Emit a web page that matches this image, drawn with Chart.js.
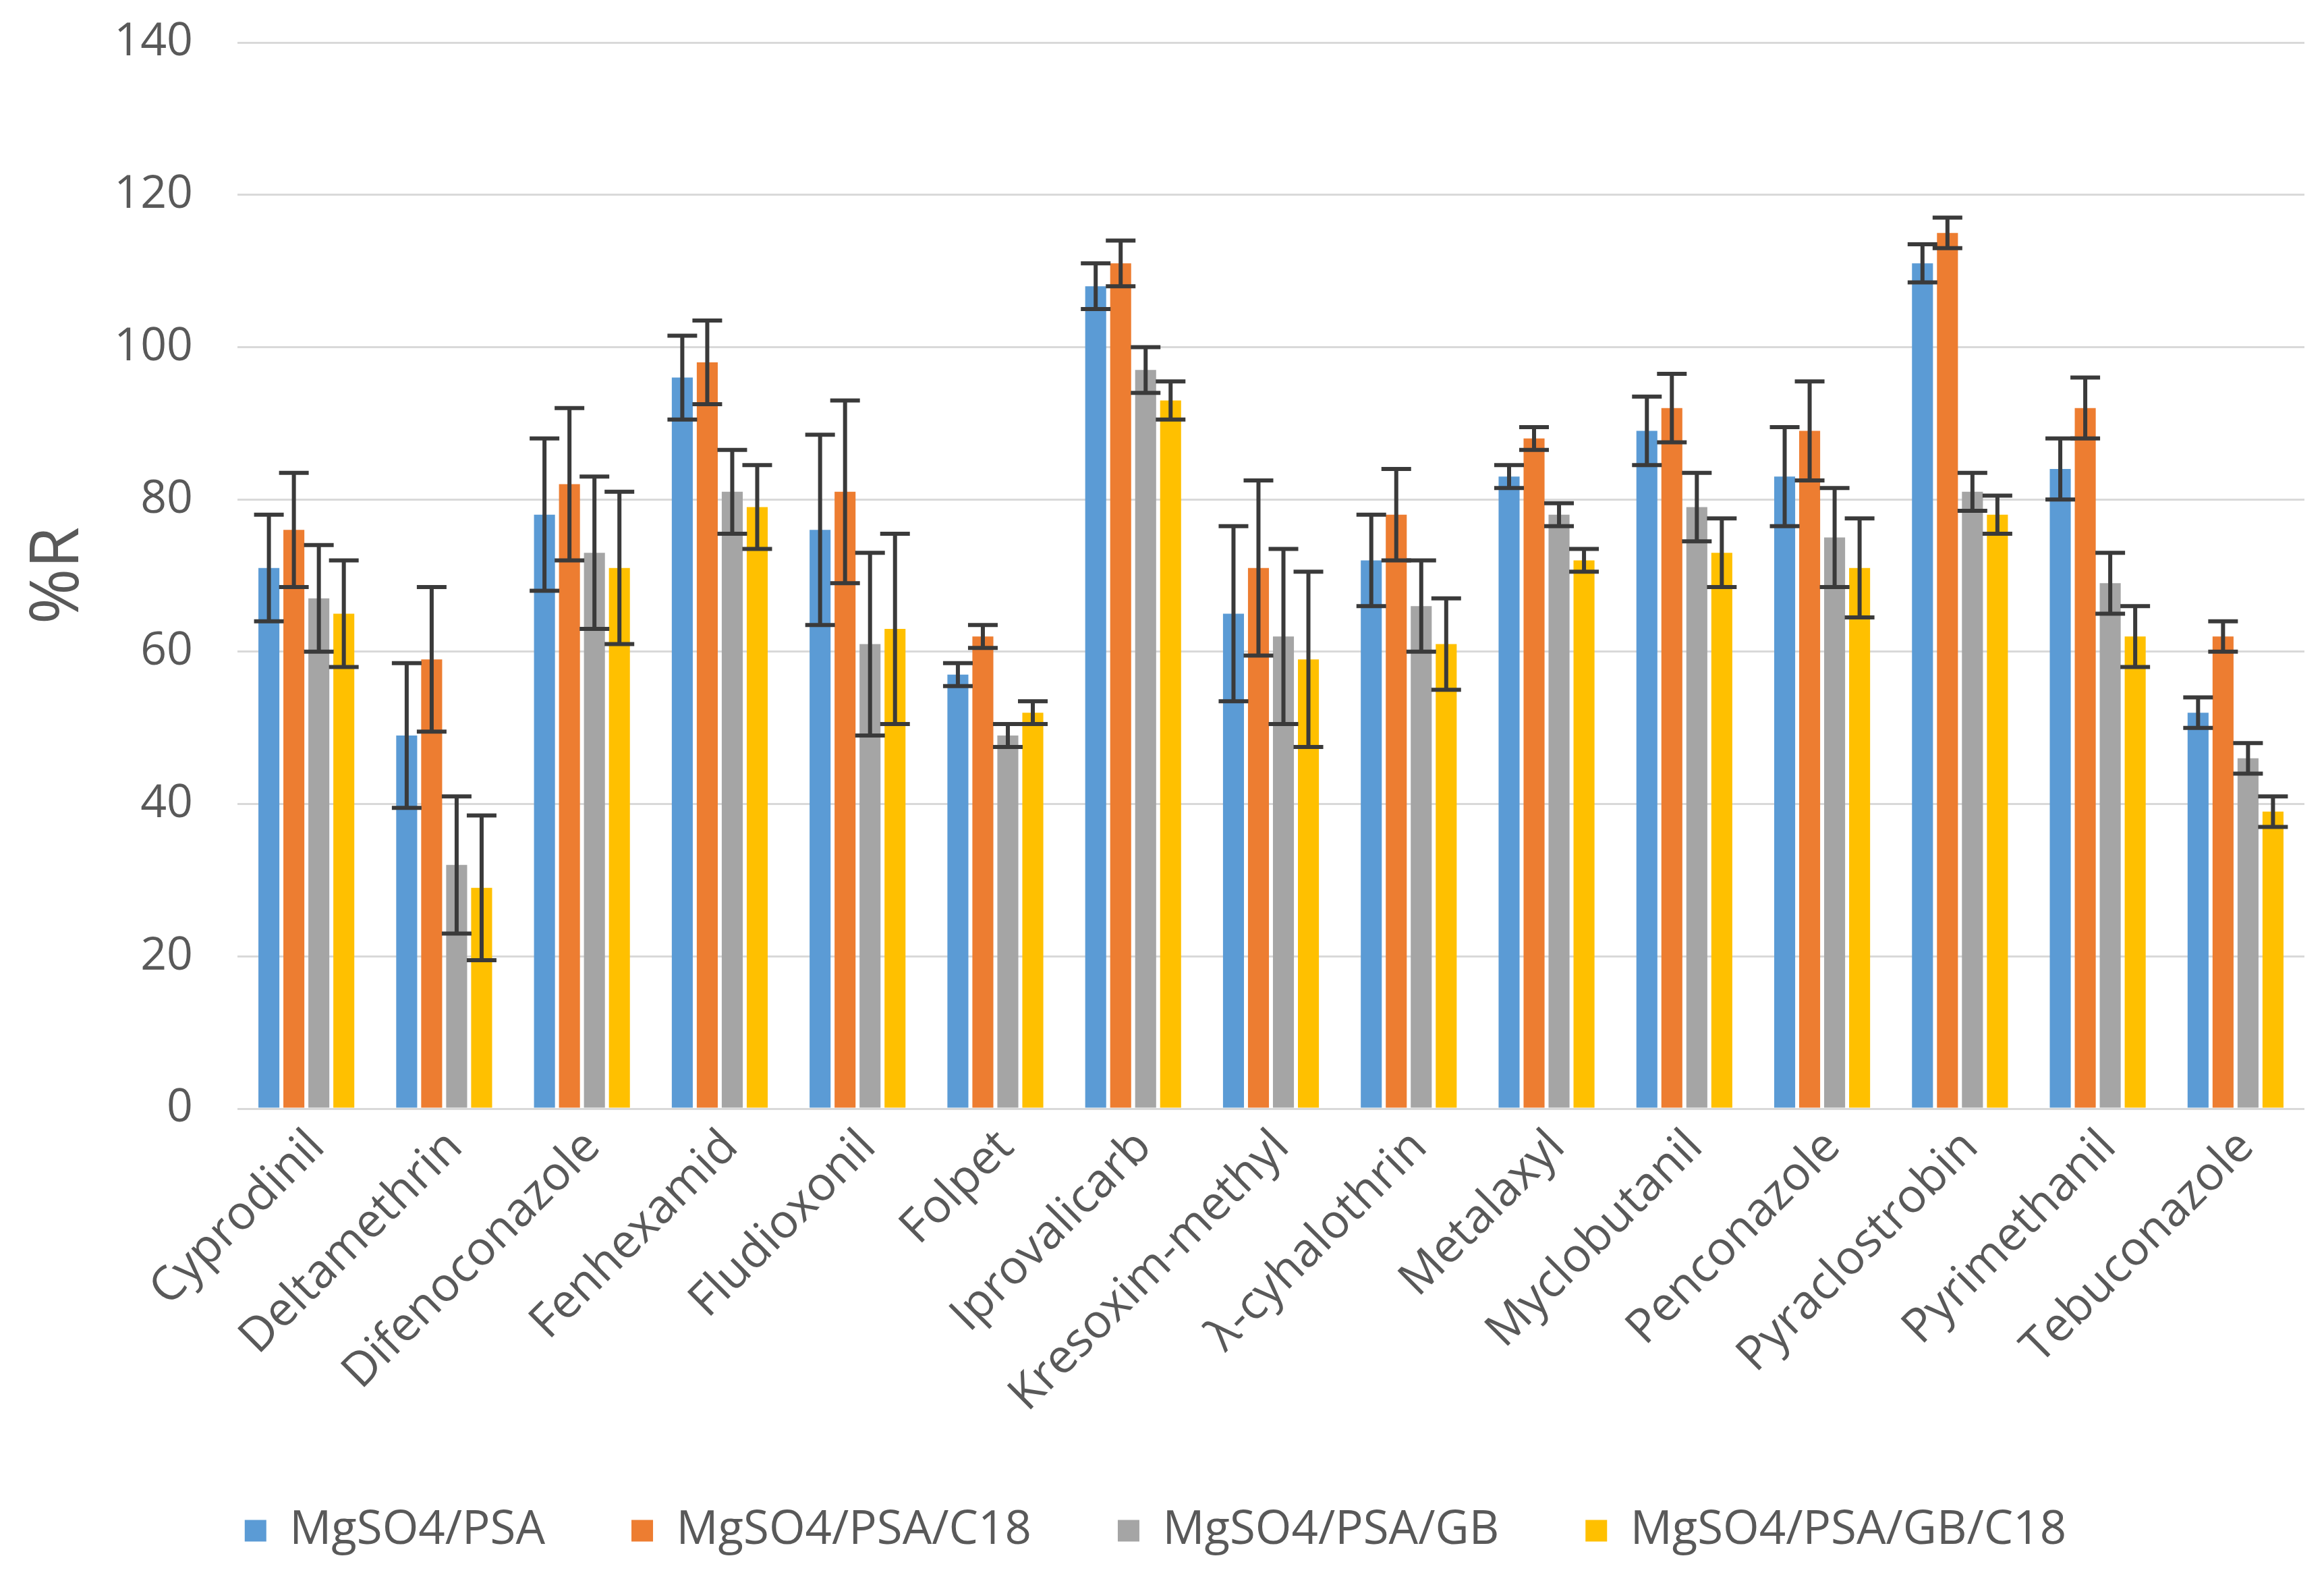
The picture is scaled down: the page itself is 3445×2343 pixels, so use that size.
<!DOCTYPE html>
<html>
<head>
<meta charset="utf-8">
<script src="https://cdn.jsdelivr.net/npm/chart.js@4.4.1/dist/chart.umd.min.js"></script>
<style>
  html, body { margin: 0; padding: 0; background: #fff; }
  canvas { display: block; }
</style>
</head>
<body>
<canvas id="recovery" width="3445" height="2343"></canvas>
<script>
const pesticides = ['Cyprodinil', 'Deltamethrin', 'Difenoconazole', 'Fenhexamid', 'Fludioxonil', 'Folpet', 'Iprovalicarb',
  'Kresoxim-methyl', 'λ-cyhalothrin', 'Metalaxyl', 'Myclobutanil', 'Penconazole', 'Pyraclostrobin', 'Pyrimethanil', 'Tebuconazole']
const seriesNames = ['MgSO4/PSA', 'MgSO4/PSA/C18', 'MgSO4/PSA/GB', 'MgSO4/PSA/GB/C18']
const yTicks = [0, 20, 40, 60, 80, 100, 120, 140]

const psa      = [71, 49, 78, 96, 76, 57, 108, 65, 72, 83, 89, 83, 111, 84, 52]
const psaC18   = [76, 59, 82, 98, 81, 62, 111, 71, 78, 88, 92, 89, 115, 92, 62]
const psaGb    = [67, 32, 73, 81, 61, 49, 97, 62, 66, 78, 79, 75, 81, 69, 46]
const psaGbC18 = [65, 29, 71, 79, 63, 52, 93, 59, 61, 72, 73, 71, 78, 62, 39]

const psaErr      = [7, 9.5, 10, 5.5, 12.5, 1.5, 3, 11.5, 6, 1.5, 4.5, 6.5, 2.5, 4, 2]
const psaC18Err   = [7.5, 9.5, 10, 5.5, 12, 1.5, 3, 11.5, 6, 1.5, 4.5, 6.5, 2, 4, 2]
const psaGbErr    = [7, 9, 10, 5.5, 12, 1.5, 3, 11.5, 6, 1.5, 4.5, 6.5, 2.5, 4, 2]
const psaGbC18Err = [7, 9.5, 10, 5.5, 12.5, 1.5, 2.5, 11.5, 6, 1.5, 4.5, 6.5, 2.5, 4, 2]

const colors = ['#5B9BD5', '#ED7D31', '#A5A5A5', '#FFC000']
const values = [psa, psaC18, psaGb, psaGbC18]
const errors = [psaErr, psaC18Err, psaGbErr, psaGbC18Err]

const textGray = '#595959'
Chart.defaults.font.family = "'Open Sans', 'Noto Sans', sans-serif"
Chart.defaults.color = textGray

// error bars drawn from the y scale of each bar
const errorBars = {
  id: 'errorBars',
  afterDatasetsDraw(chart) {
    const ctx = chart.ctx
    const y = chart.scales.y
    ctx.save()
    ctx.strokeStyle = '#3A3A3A'
    ctx.lineWidth = 6
    chart.data.datasets.forEach((ds, d) => {
      const meta = chart.getDatasetMeta(d)
      meta.data.forEach((bar, i) => {
        const v = ds.data[i]
        const e = ds.errors[i]
        const top = y.getPixelForValue(v + e)
        const bottom = y.getPixelForValue(v - e)
        const half = 22
        ctx.beginPath()
        ctx.moveTo(bar.x, top)
        ctx.lineTo(bar.x, bottom)
        ctx.moveTo(bar.x - half, top)
        ctx.lineTo(bar.x + half, top)
        ctx.moveTo(bar.x - half, bottom)
        ctx.lineTo(bar.x + half, bottom)
        ctx.stroke()
      })
    })
    ctx.restore()
  }
}

const recoveryData = {
  labels: pesticides,
  datasets: seriesNames.map((name, k) => ({
    label: name,
    data: values[k],
    errors: errors[k],
    backgroundColor: colors[k],
    borderWidth: 0,
    categoryPercentage: 0.725,
    barPercentage: 0.84
  }))
}

const recoveryOptions = {
  responsive: false,
  devicePixelRatio: 1,
  animation: false,
  layout: {
    padding: { left: 10, right: 29, top: 63, bottom: 30 }
  },
  scales: {
    x: {
      grid: { display: false, drawTicks: false },
      border: { display: false },
      ticks: {
        minRotation: 45,
        maxRotation: 45,
        autoSkip: false,
        padding: 16,
        labelOffset: 16,
        color: textGray,
        font: { size: 70 }
      },
      afterFit: s => { s.height = 463 }
    },
    y: {
      min: 0,
      max: 140,
      afterBuildTicks: s => { s.ticks = yTicks.map(v => ({ value: v })) },
      grid: { color: '#D9D9D9', lineWidth: 3, drawTicks: false },
      border: { display: false },
      ticks: {
        padding: 66,
        color: textGray,
        font: { size: 68 }
      },
      title: {
        display: true,
        text: '%R',
        color: textGray,
        font: { size: 100 },
        padding: { top: 18, bottom: 0 }
      },
      afterFit: s => {
        s.width = 342
        s.paddingTop = 0
        s.paddingBottom = 0
      }
    }
  },
  plugins: {
    legend: {
      position: 'bottom',
      labels: {
        boxWidth: 32,
        boxHeight: 32,
        padding: 128,
        color: textGray,
        font: { size: 69 }
      }
    },
    tooltip: { enabled: false }
  }
}

let recoveryChart = new Chart(document.getElementById('recovery'), {
  type: 'bar',
  data: recoveryData,
  options: recoveryOptions,
  plugins: [errorBars]
})
</script>
</body>
</html>
